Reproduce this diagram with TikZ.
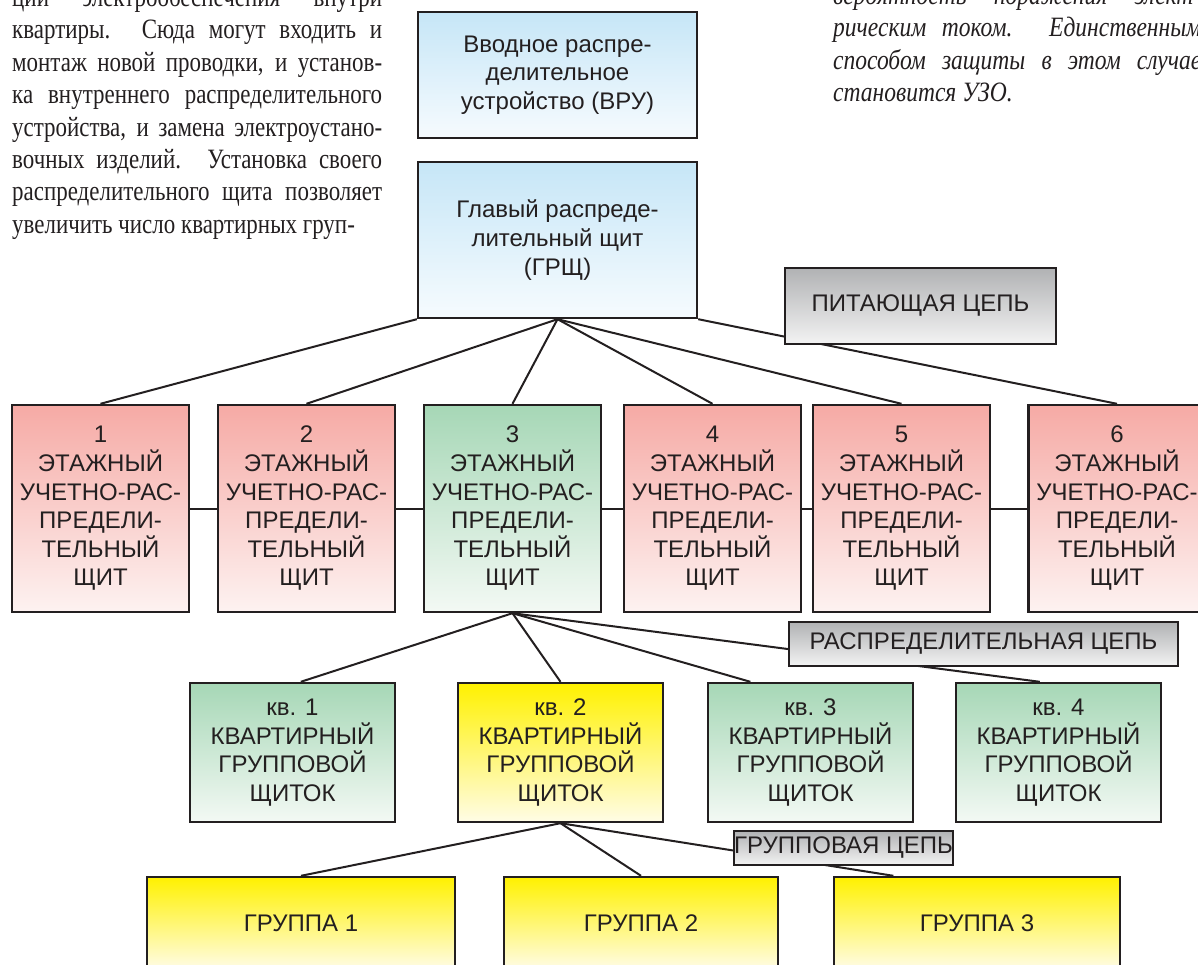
\documentclass[tikz,border=0pt]{standalone}
\usepackage{fontspec}
\setmainfont{Liberation Sans}
\newfontfamily\bookfont[FakeStretch=0.82]{Liberation Serif}
\newfontfamily\slantbook[FakeStretch=0.84]{Liberation Serif}
\usetikzlibrary{backgrounds,calc}

\definecolor{ink}{HTML}{231F20}
\definecolor{bluetop}{HTML}{C6E6F7}
\definecolor{bluebot}{HTML}{F6FBFE}
\definecolor{pinktop}{HTML}{F6AAA5}
\definecolor{pinkbot}{HTML}{FDF2F1}
\definecolor{greentop}{HTML}{A6D7B6}
\definecolor{greenbot}{HTML}{F3F9F4}
\definecolor{yellowtop}{HTML}{FFF100}
\definecolor{yellowbot}{HTML}{FFFCE6}
\definecolor{greytop}{HTML}{B1B2B4}
\definecolor{greybot}{HTML}{F3F3F3}

\tikzset{
  shield/.style={draw=ink,line width=2.4pt,text=ink,align=center,inner sep=0pt,
    font=\fontsize{24}{28.6}\selectfont},
  blue fill/.style={top color=bluetop,bottom color=bluebot},
  pink fill/.style={top color=pinktop,bottom color=pinkbot},
  green fill/.style={top color=greentop,bottom color=greenbot},
  yellow fill/.style={top color=yellowtop,bottom color=yellowbot},
  tag/.style={shield,top color=greytop,bottom color=greybot},
  wire/.style={draw=ink,line width=2pt},
  page text/.style={text width=370pt,align=justify,inner sep=0pt,text=ink,
    font=\bookfont\fontsize{28}{32.4}\selectfont},
  page italic/.style={page text,text width=368pt,
    font=\slantbook\itshape\fontsize{28}{32.5}\selectfont}
}

\begin{document}
\begin{tikzpicture}[x=1pt,y=-1pt]
\useasboundingbox (0,0) rectangle (1198,965);
%\draw[help lines,step=50] (0,0) grid (1198,965);
% article text round the scheme
\node[page text,anchor=base west] (lefttext) at (12,6.6) {\parfillskip=0pt
ции электрообеспечения внутри\linebreak
квартиры. Сюда могут входить и\linebreak
монтаж новой проводки, и установ-\linebreak
ка внутреннего распределительного\linebreak
устройства, и замена электроустано-\linebreak
вочных изделий. Установка своего\linebreak
распределительного щита позволяет\linebreak
увеличить число квартирных груп-};
\node[page italic,anchor=base west] (righttext) at (833,4.5) {
вероятность поражения элект-\linebreak
рическим током. Единственным\linebreak
способом защиты в этом случае\linebreak
становится УЗО.};
%
\node[shield,blue fill,minimum width=279pt,minimum height=126pt] (vru) at (557.5,75)
  {Вводное распре-\\делительное\\устройство (ВРУ)};
\node[shield,blue fill,minimum width=279pt,minimum height=156pt] (grsh) at (557.5,240)
  {Главый распреде-\\лительный щит\\(ГРЩ)};
%
\foreach \n/\x/\c in {1/100.5/pink,2/306.5/pink,3/512.5/green,4/712.5/pink,5/901.5/pink,6/1117/pink}
\node[shield,\c\space fill,minimum width=177pt,minimum height=207pt] (r\n) at (\x,508.5)
  {\n\\ЭТАЖНЫЙ\\УЧЕТНО-РАС-\\ПРЕДЕЛИ-\\ТЕЛЬНЫЙ\\ЩИТ};
%
\foreach \n/\x/\c in {1/292.5/green,2/560.5/yellow,3/810.5/green,4/1058.5/green}
\node[shield,\c\space fill,minimum width=205pt,minimum height=139pt] (kv\n) at (\x,752.5)
  {кв. \n\\КВАРТИРНЫЙ\\ГРУППОВОЙ\\ЩИТОК};
%
\foreach \n/\x/\w in {1/301/308,2/641/274,3/977/286}
\node[shield,yellow fill,minimum width=\w pt,minimum height=92pt] (g\n) at (\x,923)
  {ГРУППА \n};
%
\node[tag,minimum width=271pt,minimum height=76pt] (feed) at (920.5,306) {ПИТАЮЩАЯ ЦЕПЬ};
\node[tag,minimum width=389pt,minimum height=44pt] (distr) at (983.5,644) {РАСПРЕДЕЛИТЕЛЬНАЯ ЦЕПЬ};
\node[tag,minimum width=217pt,minimum height=34pt] (grp) at (843.5,848) {ГРУППОВАЯ ЦЕПЬ};
%
\begin{scope}[on background layer]
\draw[wire] (grsh.south west) -- (r1.north);
\foreach \n in {2,...,5}\draw[wire] (grsh.south) -- (r\n.north);
\draw[wire] (grsh.south east) -- (r6.north);
\foreach \a/\b in {1/2,2/3,3/4,4/5,5/6}\draw[wire] (r\a.east) -- (r\b.west);
%
\draw[wire] (r3.south) -- ($(kv1.north west)!.54!(kv1.north east)$);
\draw[wire] (r3.south) -- (kv2.north);
\draw[wire] (r3.south) -- ($(kv3.north west)!.21!(kv3.north east)$);
\draw[wire] (r3.south) -- ($(kv4.north west)!.41!(kv4.north east)$);
%
\draw[wire] (kv2.south) -- (g1.north);
\draw[wire] (kv2.south) -- (g2.north);
\draw[wire] (kv2.south) -- ($(g3.north west)!.21!(g3.north east)$);
\end{scope}
\end{tikzpicture}
\end{document}
